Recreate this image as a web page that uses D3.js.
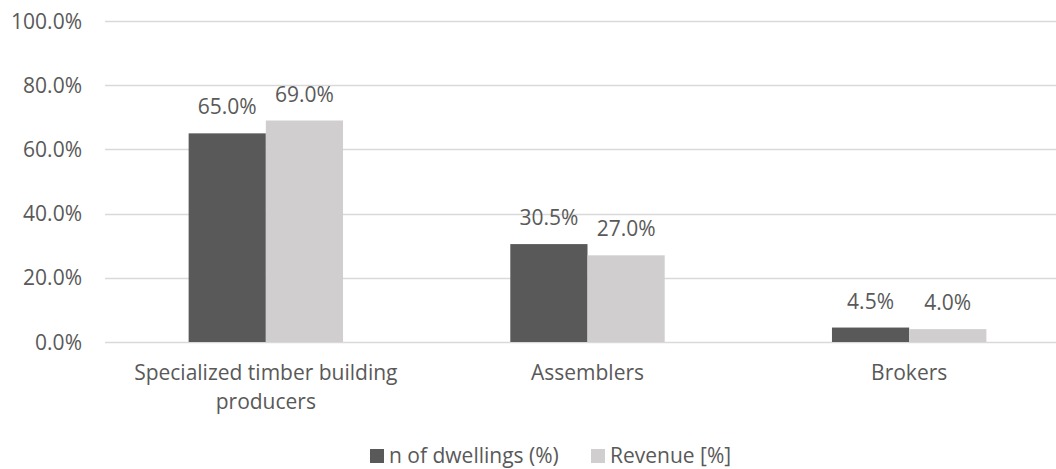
<!DOCTYPE html>
<html>
<head>
<meta charset="utf-8">
<script src="https://cdn.jsdelivr.net/npm/d3@7"></script>
<style>
  body { margin: 0; background: #fff; }
  text { font-family: "Open Sans", sans-serif; fill: #595959; font-size: 21px; }
</style>
</head>
<body>
<div id="chart"></div>
<script>
var categories = [['Specialized timber building', 'producers'], ['Assemblers'], ['Brokers']];
var seriesNames = ['n of dwellings (%)', 'Revenue [%]'];
var dwellings = [65.0, 30.5, 4.5];
var revenue = [69.0, 27.0, 4.0];
var yTicks = [0, 20, 40, 60, 80, 100];
var colors = ['#595959', '#d0cece'];

var width = 1056, height = 469;
var margin = {top: 21, right: -14, bottom: 127, left: 105};

var svg = d3.select('#chart').append('svg')
    .attr('width', width)
    .attr('height', height);

var x = d3.scaleBand()
    .domain(d3.range(categories.length))
    .range([margin.left, width - margin.right])
    .paddingInner(0.52)
    .paddingOuter(0.26);

var x1 = d3.scaleBand()
    .domain([0, 1])
    .range([0, x.bandwidth()]);

var y = d3.scaleLinear()
    .domain([0, 100])
    .range([height - margin.bottom, margin.top]);

// gridlines
svg.append('g')
  .selectAll('line')
  .data(yTicks)
  .enter().append('line')
    .attr('x1', margin.left)
    .attr('x2', width - margin.right)
    .attr('y1', function(d) { return Math.round(y(d)) + 0.5; })
    .attr('y2', function(d) { return Math.round(y(d)) + 0.5; })
    .attr('stroke', '#d9d9d9')
    .attr('stroke-width', 1.3);

// y labels
svg.append('g')
  .selectAll('text')
  .data(yTicks)
  .enter().append('text')
    .attr('x', 82)
    .attr('y', function(d) { return y(d); })
    .attr('dy', '0.36em')
    .attr('text-anchor', 'end')
    .text(function(d) { return d.toFixed(1) + '%'; });

var series = [dwellings, revenue];

series.forEach(function(vals, s) {
  var g = svg.append('g');
  g.selectAll('rect')
    .data(vals)
    .enter().append('rect')
      .attr('x', function(d, i) { return x(i) + x1(s); })
      .attr('y', function(d) { return y(d); })
      .attr('width', x1.bandwidth())
      .attr('height', function(d) { return y(0) - y(d); })
      .attr('fill', colors[s]);

  g.selectAll('text')
    .data(vals)
    .enter().append('text')
      .attr('x', function(d, i) { return x(i) + x1(s) + x1.bandwidth() / 2; })
      .attr('y', function(d) { return y(d) - 19; })
      .attr('text-anchor', 'middle')
      .text(function(d) { return d.toFixed(1) + '%'; });
});

// category labels
var cat = svg.append('g')
  .selectAll('text')
  .data(categories)
  .enter().append('text')
    .attr('x', function(d, i) { return x(i) + x.bandwidth() / 2; })
    .attr('y', 380)
    .attr('text-anchor', 'middle');

cat.selectAll('tspan')
  .data(function(d) { return d; })
  .enter().append('tspan')
    .attr('x', function() { return d3.select(this.parentNode).attr('x'); })
    .attr('dy', function(d, i) { return i ? 29 : 0; })
    .text(function(d) { return d; });

// legend
var legendX = [370, 591];
var legend = svg.append('g')
  .selectAll('g')
  .data(seriesNames)
  .enter().append('g')
    .attr('transform', function(d, i) { return 'translate(' + legendX[i] + ',449)'; });

legend.append('rect')
    .attr('width', 14)
    .attr('height', 14)
    .attr('fill', function(d, i) { return colors[i]; });

legend.append('text')
    .attr('x', 19)
    .attr('y', 14)
    .text(function(d) { return d; });
</script>
</body>
</html>
